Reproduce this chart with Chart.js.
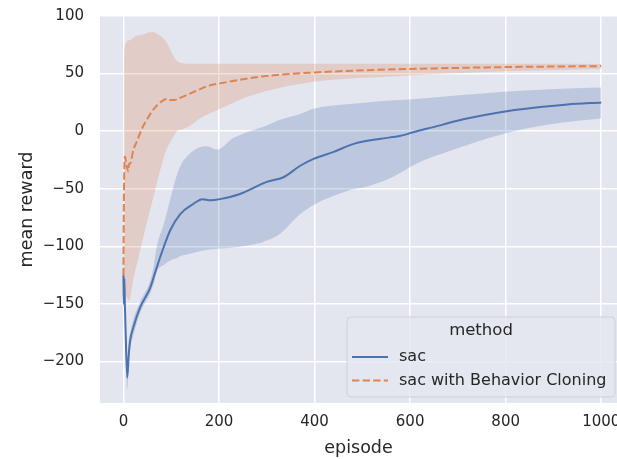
<!DOCTYPE html>
<html>
<head>
<meta charset="utf-8">
<script src="https://cdn.jsdelivr.net/npm/chart.js@4.4.0/dist/chart.umd.min.js"></script>
<style>
    html, body { margin: 0; padding: 0; background: #ffffff; }
    #rewardChart { display: block; }
</style>
</head>
<body>
<canvas id="rewardChart" width="617" height="459"></canvas>
<script>
// Episode ticks and axis labels
const xTicks = [0, 200, 400, 600, 800, 1000];
const yTicks = [-200, -150, -100, -50, 0, 50, 100];

// sac mean reward
const sacEpisodes = [0, 1, 2, 3, 5, 8, 11, 14, 21, 35, 56, 70, 84, 98, 119, 147, 165, 182, 202, 244, 300, 335, 370, 398, 440, 482, 538, 580, 614, 649, 684, 719, 789, 859, 929, 1000];
const sacMean = [-125, -150, -128, -150, -180, -214, -195, -182, -170, -153, -136, -118, -101, -86, -72, -63, -59, -60, -59, -54.5, -44, -40, -30, -24, -18, -11, -6.6, -4, 0, 3.5, 7.5, 11, 16.5, 20.3, 23.2, 25];

// sac confidence band
const sacBandEpisodes = [0, 3, 5, 8, 11, 14, 21, 35, 56, 63, 70, 85, 95, 105, 112, 122, 133, 154, 175, 196, 230, 286, 300, 328, 370, 398, 475, 510, 552, 580, 614, 684, 789, 893, 1000];
const sacUpper = [-98, -122, -160, -200, -183, -175, -163, -148, -130, -118, -100, -80, -64, -48, -38, -28, -22, -15, -13, -16, -6, 3, 5, 10, 15, 19.5, 23.5, 25, 26.5, 27, 28, 30.5, 34, 36.5, 38];
const sacLower = [-152, -155, -185, -224, -205, -190, -177, -158, -141, -133, -122, -116, -113, -111, -110, -108, -107, -105, -103, -102, -101, -97, -95, -89, -72, -64, -51, -48, -42, -36, -28, -17, -3, 6, 11];

// sac with Behavior Cloning mean reward
const bcEpisodes = [0, 1, 2, 3, 5, 7, 10, 12, 14, 21, 28, 38, 49, 63, 77, 91, 98, 105, 119, 147, 175, 202, 250, 300, 400, 510, 600, 790, 1000];
const bcMean = [-125, -60, -30, -22, -25, -30, -35, -28, -28, -16, -9, 1.5, 10, 19, 25, 28, 27, 27, 29, 34, 39, 41.5, 45, 48, 51, 53, 54, 55.6, 56.5];

// sac with Behavior Cloning confidence band
const bcBandEpisodes = [0, 1, 3, 8, 12, 14, 20, 30, 41, 56, 63, 73, 85, 92, 100, 112, 125, 140, 160, 200, 260, 330, 420, 580, 800, 1000];
const bcUpper = [-110, 55, 74, 78, 79, 79, 81, 83, 84, 86, 86, 84, 80, 76, 69, 61, 59, 58.5, 58.5, 58.5, 58.5, 58.5, 58.5, 58.5, 58.5, 58.3];
const bcLower = [-130, -135, -140, -145, -147, -145, -130, -112, -93, -68, -57, -40, -22, -14, -8, 0, 2, 5, 11, 19, 30, 38, 44, 48, 52, 54];

const BLUE = '#4c72b0';
const ORANGE = '#dd8452';
const TEXT = '#262626';
const FONT = "'DejaVu Sans', sans-serif";

function toPoints(xs, ys) {
    return xs.map((x, i) => ({ x: x, y: ys[i] }));
}

// matplotlib style tick text (true minus sign, no thousands separator)
function tickText(value) {
    return String(value).replace('-', '\u2212');
}

// Seaborn-like grey plot background
const plotBackground = {
    id: 'plotBackground',
    beforeDraw(chart) {
        const { ctx, chartArea } = chart;
        ctx.save();
        ctx.fillStyle = 'rgb(227, 229, 239)';
        ctx.fillRect(chartArea.left, chartArea.top, chartArea.right - chartArea.left, chartArea.bottom - chartArea.top);
        ctx.restore();
    }
};

// Legend box in the lower right corner of the plot
const methodLegend = {
    id: 'methodLegend',
    afterDraw(chart) {
        const ctx = chart.ctx;
        const x = 347, y = 317, w = 268, h = 80, r = 4;
        ctx.save();
        ctx.beginPath();
        ctx.moveTo(x + r, y);
        ctx.arcTo(x + w, y, x + w, y + h, r);
        ctx.arcTo(x + w, y + h, x, y + h, r);
        ctx.arcTo(x, y + h, x, y, r);
        ctx.arcTo(x, y, x + w, y, r);
        ctx.closePath();
        ctx.fillStyle = 'rgba(229, 231, 240, 0.85)';
        ctx.fill();
        ctx.strokeStyle = '#cfd0d8';
        ctx.lineWidth = 1;
        ctx.stroke();

        ctx.fillStyle = TEXT;
        ctx.textBaseline = 'middle';
        ctx.textAlign = 'center';
        ctx.font = '16.5px ' + FONT;
        ctx.fillText('method', x + w / 2, 331);

        const entries = [
            { label: 'sac', color: BLUE, dash: [], y: 357 },
            { label: 'sac with Behavior Cloning', color: ORANGE, dash: [7.4, 3.2], y: 380.5 }
        ];
        entries.forEach(function(e) {
            ctx.beginPath();
            ctx.setLineDash(e.dash);
            ctx.strokeStyle = e.color;
            ctx.lineWidth = 2;
            ctx.moveTo(352, e.y);
            ctx.lineTo(388, e.y);
            ctx.stroke();
            ctx.setLineDash([]);
            ctx.textAlign = 'left';
            ctx.font = '16px ' + FONT;
            ctx.fillStyle = TEXT;
            ctx.fillText(e.label, 399, e.y);
        });
        ctx.restore();
    }
};

document.addEventListener('DOMContentLoaded', function() {
    const ctx = document.getElementById('rewardChart');
    new Chart(ctx, {
        type: 'line',
        data: {
            datasets: [
                {
                    label: 'sac lower',
                    data: toPoints(sacBandEpisodes, sacLower),
                    borderWidth: 0,
                    pointRadius: 0,
                    fill: false,
                    order: 4
                },
                {
                    label: 'sac upper',
                    data: toPoints(sacBandEpisodes, sacUpper),
                    borderWidth: 0,
                    pointRadius: 0,
                    backgroundColor: 'rgba(76, 114, 176, 0.25)',
                    fill: '-1',
                    order: 4
                },
                {
                    label: 'bc lower',
                    data: toPoints(bcBandEpisodes, bcLower),
                    borderWidth: 0,
                    pointRadius: 0,
                    fill: false,
                    order: 3
                },
                {
                    label: 'bc upper',
                    data: toPoints(bcBandEpisodes, bcUpper),
                    borderWidth: 0,
                    pointRadius: 0,
                    backgroundColor: 'rgba(221, 132, 82, 0.25)',
                    fill: '-1',
                    order: 3
                },
                {
                    label: 'sac',
                    data: toPoints(sacEpisodes, sacMean),
                    borderColor: BLUE,
                    borderWidth: 2,
                    pointRadius: 0,
                    fill: false,
                    order: 2
                },
                {
                    label: 'sac with Behavior Cloning',
                    data: toPoints(bcEpisodes, bcMean),
                    borderColor: ORANGE,
                    borderWidth: 2,
                    borderDash: [7.4, 3.2],
                    pointRadius: 0,
                    fill: false,
                    order: 1
                }
            ]
        },
        options: {
            responsive: false,
            animation: false,
            devicePixelRatio: 1,
            cubicInterpolationMode: 'monotone',
            layout: { padding: { top: 16, left: 0, right: 0, bottom: 0 } },
            plugins: {
                legend: { display: false },
                tooltip: { enabled: false }
            },
            scales: {
                x: {
                    type: 'linear',
                    min: -49,
                    max: 1033,
                    afterFit: function(scale) {
                        scale.height = 56;
                        scale.paddingLeft = 0;
                        scale.paddingRight = 0;
                    },
                    afterBuildTicks: function(scale) {
                        scale.ticks = xTicks.map(v => ({ value: v }));
                    },
                    grid: { color: '#ffffff', lineWidth: 1.5, drawTicks: false },
                    border: { display: false },
                    ticks: {
                        padding: 10,
                        color: TEXT,
                        font: { family: FONT, size: 15 },
                        callback: tickText
                    },
                    title: {
                        display: true,
                        text: 'episode',
                        color: TEXT,
                        font: { family: FONT, size: 17.5 },
                        padding: { top: 0, bottom: 0.5 }
                    }
                },
                y: {
                    type: 'linear',
                    min: -236,
                    max: 100,
                    afterFit: function(scale) {
                        scale.width = 100;
                        scale.paddingTop = 0;
                        scale.paddingBottom = 0;
                    },
                    afterBuildTicks: function(scale) {
                        scale.ticks = yTicks.map(v => ({ value: v }));
                    },
                    grid: { color: '#ffffff', lineWidth: 1.5, drawTicks: false },
                    border: { display: false },
                    ticks: {
                        padding: 16,
                        color: TEXT,
                        font: { family: FONT, size: 15 },
                        callback: tickText
                    },
                    title: {
                        display: true,
                        text: 'mean reward',
                        color: TEXT,
                        font: { family: FONT, size: 17.5 },
                        padding: { top: 16.5, bottom: 0 }
                    }
                }
            }
        },
        plugins: [plotBackground, methodLegend]
    });
});
</script>
</body>
</html>
